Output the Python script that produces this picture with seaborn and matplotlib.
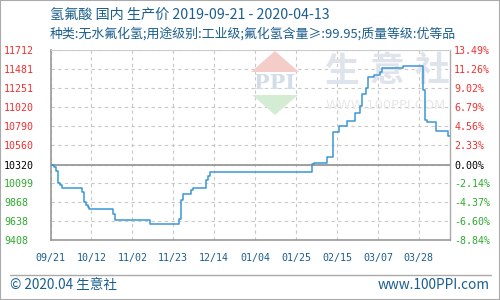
import matplotlib
matplotlib.use("Agg")
import matplotlib.pyplot as plt
import numpy as np
import pandas as pd
import seaborn as sns
from matplotlib.patches import Polygon, Rectangle
from matplotlib.lines import Line2D

# ---------------- data ----------------
dates = ["2019-09-21", "2019-09-23", "2019-09-24", "2019-09-25", "2019-09-26", "2019-09-27",
         "2019-10-07", "2019-10-08", "2019-10-09", "2019-10-10", "2019-10-11", "2019-10-23",
         "2019-10-24", "2019-11-11", "2019-11-26", "2019-11-27", "2019-11-28", "2019-12-02",
         "2019-12-03", "2019-12-10", "2019-12-11", "2019-12-12", "2020-02-02", "2020-02-03",
         "2020-02-10", "2020-02-13", "2020-02-16", "2020-02-20", "2020-02-24", "2020-02-27",
         "2020-02-28", "2020-03-01", "2020-03-02", "2020-03-05", "2020-03-08", "2020-03-09",
         "2020-03-20", "2020-03-30", "2020-03-31", "2020-04-01", "2020-04-06", "2020-04-12",
         "2020-04-13"]
prices = [10320, 10300, 10250, 10105, 10083, 10040,
          9995, 9875, 9835, 9810, 9785, 9725,
          9650, 9605, 9672, 9900, 9972, 10020,
          10044, 10140, 10188, 10236, 10332, 10345,
          10413, 10718, 10791, 10852, 10955, 11036,
          11187, 11255, 11390, 11410, 11451, 11492,
          11523, 11227, 10861, 10840, 10730, 10678,
          10678]

base_price = 10320
y_ticks = [9408, 9638, 9868, 10099, 10320, 10560, 10790, 11020, 11251, 11481, 11712]
pct_labels = ["-8.84%", "-6.60%", "-4.37%", "-2.14%", "0.00%", "2.33%",
              "4.56%", "6.79%", "9.02%", "11.26%", "13.49%"]
x_tick_dates = ["2019-09-21", "2019-10-12", "2019-11-02", "2019-11-23", "2019-12-14",
                "2020-01-04", "2020-01-25", "2020-02-15", "2020-03-07", "2020-03-28"]
x_tick_labels = ["09/21", "10/12", "11/02", "11/23", "12/14",
                 "01/04", "01/25", "02/15", "03/07", "03/28"]
x_start, x_end = "2019-09-21", "2020-04-13"

title = "氢氟酸 国内 生产价 2019-09-21 - 2020-04-13"
subtitle = "种类:无水氟化氢;用途级别:工业级;氟化氢含量≥:99.95;质量等级:优等品"
footer_left = "© 2020.04 生意社"
footer_right = "www.100PPI.com"

# ---------------- style ----------------
sns.set_theme(style="white")
plt.rcParams['font.family'] = ['Noto Sans CJK SC', 'DejaVu Sans']

BLUE_TXT = "#1b5e8e"
RED = "#f03030"
GREEN = "#2eaa2e"
LINE = "#3a96d4"

W, H = 500, 300
fig = plt.figure(figsize=(5, 3), dpi=100)
fig.patch.set_facecolor("white")


def fx(px):
    return px / W


def fy(py):
    return 1 - py / H


ax = fig.add_axes([fx(50.5), fy(240.3), fx(450) - fx(50.5), fy(50.3) - fy(240.3)])

df = pd.DataFrame({"date": pd.to_datetime(dates), "price": prices})

# watermark (behind the line)
wm_kw = dict(transform=fig.transFigure, clip_on=False)
ax.add_patch(Polygon([(fx(251), fy(72)), (fx(275), fy(51)), (fx(299), fy(72))],
                     closed=True, facecolor="#f4cdc8", edgecolor="none", zorder=0.6, **wm_kw))
ax.add_patch(Polygon([(fx(252), fy(95)), (fx(298), fy(95)), (fx(275), fy(115))],
                     closed=True, facecolor="#d4ecd4", edgecolor="none", zorder=0.6, **wm_kw))
ax.text(fx(275), fy(83), "PPI", ha="center", va="center", fontsize=15, fontweight="bold",
        color="#d3dce9", family=["DejaVu Serif"], zorder=0.6, **wm_kw)
for ch, cx in zip("生意社", [342, 387, 432]):
    ax.text(fx(cx), fy(71), ch, ha="center", va="center", fontsize=25, fontweight="bold",
            color="#dfe3ec", zorder=0.6, **wm_kw)
ax.text(fx(386), fy(106), "WWW.100PPI.COM", ha="center", va="center", fontsize=9.4,
        color="#e8e8e8", family=["DejaVu Sans"], zorder=0.6, **wm_kw)

sns.lineplot(data=df, x="date", y="price", ax=ax, color=LINE, lw=1.1,
             drawstyle="steps-post", zorder=3)

ax.axhline(base_price, color="#999999", lw=1.3, zorder=2)

ax.set_xlim(pd.Timestamp(x_start), pd.Timestamp(x_end))
ax.set_ylim(y_ticks[0], y_ticks[-1])
ax.set_xlabel("")
ax.set_ylabel("")

ax.set_xticks(pd.to_datetime(x_tick_dates))
ax.set_xticklabels(x_tick_labels)
ax.set_yticks(y_ticks)
ax.set_yticklabels([str(v) for v in y_ticks])
ax.grid(True, linestyle=(0, (3, 3)), color="#c8c8c8", lw=0.8)
ax.set_axisbelow(True)

ax.tick_params(axis="x", length=0, pad=9, labelsize=7.2, labelcolor=BLUE_TXT)
ax.tick_params(axis="y", length=0, pad=33.5, labelsize=7.2)
for lbl in ax.get_xticklabels():
    lbl.set_family(["DejaVu Sans Mono"])


def lab_color(v):
    if v > base_price:
        return RED
    if v < base_price:
        return GREEN
    return "black"


for lbl, v in zip(ax.get_yticklabels(), y_ticks):
    lbl.set_family(["DejaVu Sans Mono"])
    lbl.set_horizontalalignment("left")
    lbl.set_color(lab_color(v))

ax2 = ax.twinx()
ax2.set_ylim(y_ticks[0], y_ticks[-1])
ax2.set_yticks(y_ticks)
ax2.set_yticklabels(pct_labels)
ax2.tick_params(axis="y", length=0, pad=3, labelsize=7.2)
ax2.grid(False)
for lbl, v in zip(ax2.get_yticklabels(), y_ticks):
    lbl.set_family(["DejaVu Sans Mono"])
    lbl.set_color(lab_color(v))

for sp in ax2.spines.values():
    sp.set_visible(False)
ax.spines["left"].set_color("#999999")
ax.spines["left"].set_linewidth(1.2)
ax.spines["bottom"].set_color("#999999")
ax.spines["bottom"].set_linewidth(1.2)
ax.spines["right"].set_color("#aaaaaa")
ax.spines["right"].set_linewidth(1.0)
ax.spines["top"].set_color("#cccccc")
ax.spines["top"].set_linewidth(0.8)

# titles
fig.text(fx(50), fy(15), title, ha="left", va="center", fontsize=10.2, color=BLUE_TXT)
fig.text(fx(50), fy(34), subtitle, ha="left", va="center", fontsize=9.3, color=BLUE_TXT)

# footer
fig.add_artist(Line2D([fx(10), fx(491)], [fy(275), fy(275)], transform=fig.transFigure,
                      color="#aaaaaa", lw=1.0))
fig.text(fx(10), fy(285), footer_left, ha="left", va="center", fontsize=9.8, color=BLUE_TXT)
fig.text(fx(490), fy(285), footer_right, ha="right", va="center", fontsize=9.8, color=BLUE_TXT)

# outer border
fig.add_artist(Rectangle((0, 0), 1, 1, transform=fig.transFigure, fill=False,
                         edgecolor="#aaaaaa", lw=1.5))

fig.savefig("out.png", dpi=100)
